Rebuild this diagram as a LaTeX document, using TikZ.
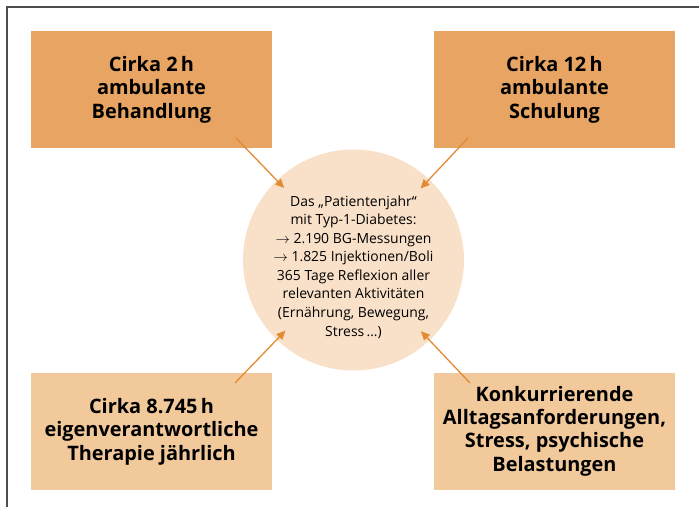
\documentclass[tikz,border=0pt]{standalone}
\usepackage{fontspec}
\setmainfont{Open Sans}
\usetikzlibrary{arrows.meta}
\definecolor{dunkelorange}{HTML}{E8A462}
\definecolor{hellorange}{HTML}{F2C99B}
\definecolor{kreisfarbe}{HTML}{F9E1C9}
\definecolor{pfeilfarbe}{HTML}{E38B33}
\definecolor{rahmen}{HTML}{4D4D4D}

\begin{document}
\begin{tikzpicture}[x=1bp, y=-1bp,
    kasten/.style={minimum width=241bp, minimum height=117bp, inner sep=0pt,
      align=center, font=\fontsize{20}{23.5}\selectfont\bfseries},
    oben/.style={kasten, fill=dunkelorange},
    unten/.style={kasten, fill=hellorange},
    pfeil/.style={pfeilfarbe, line width=1.3bp, -{Triangle[length=9bp,width=8bp]}}]
      \useasboundingbox (0,0) rectangle (699,507);
      \draw[rahmen, line width=2bp] (6.5,507) -- (6.5,7.5) -- (699,7.5);
      \node (kreis) at (353.5,260) [circle, fill=kreisfarbe, minimum size=221bp,
        inner sep=0pt, outer sep=0pt] {};
      \node (kreistext) at (353.5,267) [align=center,
        font=\fontsize{14}{18.6}\selectfont] {Das „Patientenjahr“\\ mit Typ-1-Diabetes:\\
        $\rightarrow$ 2.190 BG-Messungen\\ $\rightarrow$ 1.825 Injektionen/Boli\\
        365 Tage Reflexion aller\\ relevanten Aktivitäten\\
        (Ernährung, Bewegung,\\ Stress\,\dots)};
      \node (B) at (151.5,89.5) [oben] {Cirka 2\,h\\ ambulante\\ Behandlung};
      \node (S) at (554.5,89.5) [oben] {Cirka 12\,h\\ ambulante\\ Schulung};
      \node (T) at (151.5,431.5) [unten] {Cirka 8.745\,h\\ eigenverantwortliche\\ Therapie jährlich};
      \node (A) at (554.5,431) [unten] {Konkurrierende\\ Alltagsanforderungen,\\ Stress, psychische\\ Belastungen};
      \coordinate (sB) at (236,138);
      \coordinate (sS) at (468,138);
      \coordinate (sT) at (235,383);
      \coordinate (sA) at (470,383);
      \draw[pfeil, shorten >=100bp] (sB) to (kreis.center);
      \draw[pfeil, shorten >=98bp] (sS) to (kreis.center);
      \draw[pfeil, shorten >=98bp] (sT) to (kreis.center);
      \draw[pfeil, shorten >=98bp] (sA) to (kreis.center);
\end{tikzpicture}
\end{document}
